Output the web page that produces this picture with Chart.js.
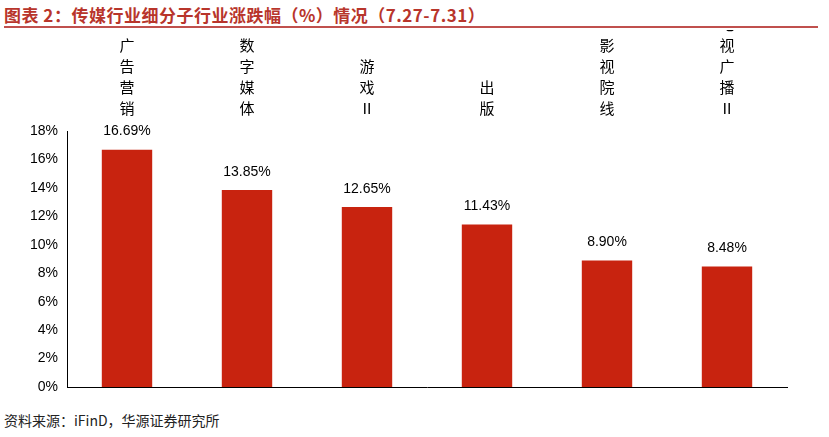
<!DOCTYPE html>
<html><head><meta charset="utf-8">
<script src="https://cdn.jsdelivr.net/npm/chart.js@4"></script>
<style>
body{margin:0;width:829px;height:437px;background:#fff;position:relative;overflow:hidden;font-family:"Noto Sans CJK SC",sans-serif}
#title{position:absolute;left:4px;top:2px;font-size:17px;font-weight:bold;color:#B8352B;letter-spacing:0.5px}
#line{position:absolute;left:4px;top:26px;width:814px;height:2px;background:#C0504D}
#src{position:absolute;left:4px;top:410px;font-size:14px;color:#222}
#wrap{position:absolute;left:0;top:30px;width:829px;height:375px}
</style></head><body>
<div id="title">图表 2：传媒行业细分子行业涨跌幅（%）情况（7.27-7.31）</div>
<div id="line"></div>
<div id="wrap"><canvas id="c"></canvas></div>
<div id="src">资料来源：iFinD，华源证券研究所</div>
<script>
const categories=["广告营销","数字媒体","游戏Ⅱ","出版","影视院线","电视广播Ⅱ"];
const values=[16.69,13.85,12.65,11.43,8.90,8.48];
const yTicks=[0,2,4,6,8,10,12,14,16,18];
const labelLines=categories.map(c=>Array.from(c));
const valueLabels={id:'vl',afterDatasetsDraw(ch){const ctx=ch.ctx;ctx.save();ctx.font='14px "Liberation Sans", Arial';ctx.fillStyle='#000';ctx.textAlign='center';ctx.textBaseline='bottom';
ch.getDatasetMeta(0).data.forEach((b,i)=>{ctx.fillText(values[i].toFixed(2)+'%',b.x,b.y-11);});ctx.restore();}};
new Chart(document.getElementById('c'),{type:'bar',
data:{labels:categories,datasets:[{data:values,backgroundColor:'#C8230F',barPercentage:0.84,categoryPercentage:0.5,xAxisID:'x'}]},
options:{responsive:true,maintainAspectRatio:false,animation:false,layout:{padding:{left:0,right:42,top:0,bottom:0}},
plugins:{legend:{display:false},tooltip:{enabled:false}},
scales:{
x:{position:'bottom',grid:{display:false,drawTicks:false},border:{color:'#000',width:1},ticks:{display:false},afterFit(s){s.height=18;}},
x2:{position:'top',type:'category',labels:labelLines,grid:{display:false,drawTicks:false},border:{display:false},
ticks:{font:{size:15,family:'"Noto Sans CJK SC"',lineHeight:1.4},color:'#000',padding:12,maxRotation:0},afterFit(s){s.height=101;}},
y:{min:0,max:18,afterBuildTicks(s){s.ticks=yTicks.map(v=>({value:v}));},grid:{display:false,drawTicks:true,tickLength:5,color:'#000'},border:{color:'#000',width:1},
ticks:{callback:v=>v+'%',font:{size:14,family:'"Liberation Sans", Arial'},color:'#000',padding:4},afterFit(s){s.width=67;}}
}},plugins:[valueLabels]});
</script></body></html>
